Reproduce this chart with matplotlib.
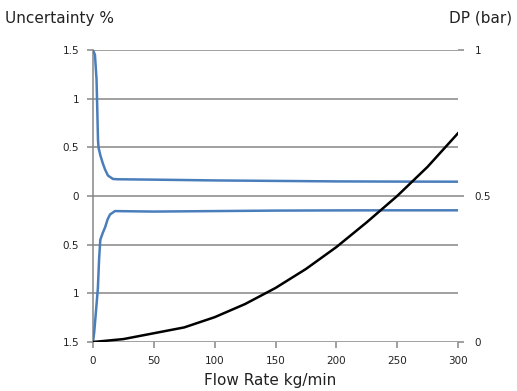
import matplotlib.pyplot as plt
import numpy as np

# uncertainty band (upper / lower), flow in kg/min
flow_up = [0, 1.6, 2.9, 3.3, 4.1, 4.5, 6, 8.2, 10, 12.3, 16.4, 20, 50, 100, 150, 200, 250, 300]
unc_up = [1.5, 1.45, 1.2, 1.0, 0.58, 0.5, 0.42, 0.33, 0.27, 0.21, 0.175, 0.172, 0.168, 0.16, 0.155, 0.15, 0.148, 0.147]

flow_lo = [0, 1, 2, 3, 4, 5, 6, 8, 10, 12, 14, 18, 50, 100, 150, 200, 250, 300]
unc_lo = [-1.5, -1.4, -1.25, -1.1, -0.95, -0.65, -0.45, -0.38, -0.32, -0.24, -0.19, -0.155, -0.16, -0.155, -0.15, -0.148, -0.147, -0.147]

# pressure drop
flow_dp = [0, 25, 50, 75, 100, 125, 150, 175, 200, 225, 250, 275, 300]
dp = [0, 0.01, 0.03, 0.05, 0.085, 0.13, 0.185, 0.25, 0.325, 0.41, 0.5, 0.6, 0.715]

left_ticks = [-1.5, -1, -0.5, 0, 0.5, 1, 1.5]
left_labels = ["1.5", "1", "0.5", "0", "0.5", "1", "1.5"]
x_ticks = [0, 50, 100, 150, 200, 250, 300]
dp_ticks = [0, 0.5, 1]

grid_c = "#868686"
blue = "#4a7ebb"

fig = plt.figure(figsize=(5.17, 3.91), dpi=100)
ax = fig.add_axes([93 / 517, 1 - 342 / 391, 365 / 517, 292 / 391])

ax.plot(flow_up, unc_up, color=blue, lw=1.8, zorder=3)
ax.plot(flow_lo, unc_lo, color=blue, lw=1.8, zorder=3)

ax.set_xlim(0, 300)
ax.set_ylim(-1.5, 1.5)
ax.set_yticks(left_ticks)
ax.set_yticklabels(left_labels)
ax.set_xticks(x_ticks)
ax.yaxis.grid(True, color=grid_c, lw=1.1)
ax.set_axisbelow(True)
for s in ["top", "right", "bottom"]:
    ax.spines[s].set_visible(False)
ax.spines["left"].set_color(grid_c)
ax.spines["left"].set_linewidth(1.1)
ax.tick_params(axis="both", colors=grid_c, length=4, width=1.1, labelsize=7.5,
               labelcolor="#222222", pad=6)

# DP on the right axis
ax2 = ax.twinx()
ax2.plot(flow_dp, dp, color="black", lw=1.8, zorder=3)
ax2.set_ylim(0, 1)
ax2.set_yticks(dp_ticks)
ax2.set_yticklabels(["0", "0.5", "1"])
for s in ax2.spines.values():
    s.set_visible(False)
ax2.tick_params(axis="y", colors=grid_c, length=4, width=1.1, labelsize=7.5,
                labelcolor="#222222", pad=8)

fig.text(5, 391 - 18, "Uncertainty %", transform=None, fontsize=11,
         va="center", ha="left", color="#222222")
fig.text(512, 391 - 18, "DP (bar)", transform=None, fontsize=11,
         va="center", ha="right", color="#222222")
fig.text(270, 391 - 381, "Flow Rate kg/min", transform=None, fontsize=11,
         va="center", ha="center", color="#222222")

fig.savefig("out.png", dpi=100)
